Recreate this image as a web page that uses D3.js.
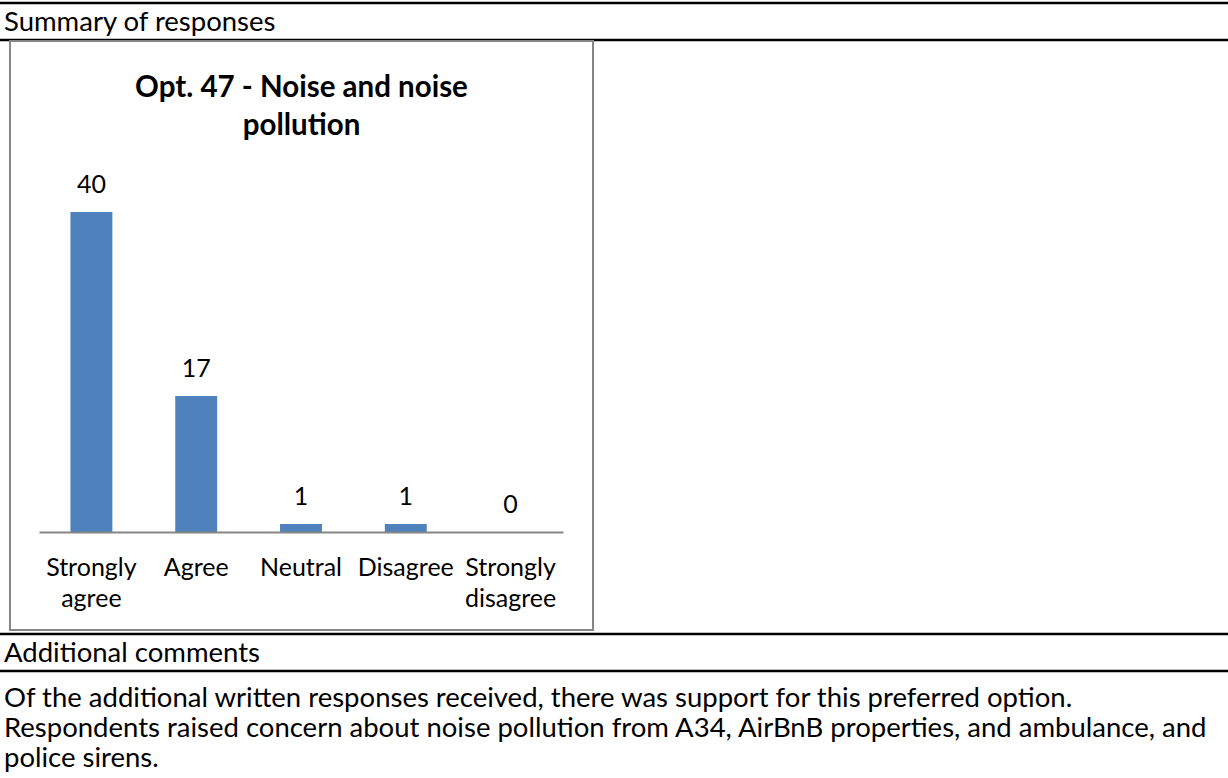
<!DOCTYPE html>
<html>
<head>
<meta charset="utf-8">
<script src="https://cdn.jsdelivr.net/npm/d3@7"></script>
<style>
  body { margin: 0; background: #fff; }
  svg { display: block; font-family: Lato, "Open Sans", sans-serif; }
</style>
</head>
<body>
<svg id="chart" width="1228" height="778"></svg>
<script>
// data
const categories = ['Strongly agree', 'Agree', 'Neutral', 'Disagree', 'Strongly disagree'];
const categoryLines = [['Strongly', 'agree'], ['Agree'], ['Neutral'], ['Disagree'], ['Strongly', 'disagree']];
const counts = [40, 17, 1, 1, 0];
const chartTitle = ['Opt. 47 - Noise and noise', 'pollution'];
const sectionHeads = ['Summary of responses', 'Additional comments'];
const commentLines = [
    'Of the additional written responses received, there was support for this preferred option.',
    'Respondents raised concern about noise pollution from A34, AirBnB properties, and ambulance, and',
    'police sirens.'
];

const svg = d3.select('#chart');
const W = 1228;
const bodySize = 27.5;
const chartSize = 25;

// table rules
[3, 40, 634, 671].forEach(y => {
    svg.append('line')
        .attr('x1', 0).attr('x2', W)
        .attr('y1', y).attr('y2', y)
        .attr('stroke', '#000')
        .attr('stroke-width', 2.5);
});

svg.append('text')
    .attr('x', 4).attr('y', 31)
    .attr('font-size', bodySize)
    .text(sectionHeads[0]);

svg.append('text')
    .attr('x', 4).attr('y', 662)
    .attr('font-size', bodySize)
    .text(sectionHeads[1]);

svg.selectAll('.comment')
    .data(commentLines)
    .enter().append('text')
    .attr('class', 'comment')
    .attr('x', 4)
    .attr('y', (d, i) => 707 + i * 30)
    .attr('font-size', bodySize)
    .text(d => d);

// chart frame
const box = {x: 10, y: 41, w: 583, h: 589};
svg.append('rect')
    .attr('x', box.x).attr('y', box.y)
    .attr('width', box.w).attr('height', box.h)
    .attr('fill', '#fff')
    .attr('stroke', '#868686')
    .attr('stroke-width', 2);

const titleG = svg.append('g')
    .attr('font-weight', 'bold')
    .attr('font-size', 29.5)
    .attr('text-anchor', 'middle');
titleG.selectAll('text')
    .data(chartTitle)
    .enter().append('text')
    .attr('x', box.x + box.w / 2)
    .attr('y', (d, i) => 97 + i * 38)
    .text(d => d);

const x = d3.scaleBand()
    .domain(categories)
    .range([39, 563])
    .paddingInner(0.6)
    .paddingOuter(0.3);

const y = d3.scaleLinear()
    .domain([0, 45])
    .range([532, 172]);

svg.selectAll('.bar')
    .data(counts)
    .enter().append('rect')
    .attr('class', 'bar')
    .attr('x', (d, i) => x(categories[i]))
    .attr('y', d => y(d))
    .attr('width', x.bandwidth())
    .attr('height', d => y(0) - y(d))
    .attr('fill', '#4F81BD');

const xAxis = d3.axisBottom(x).tickSize(0).tickFormat('');
svg.append('g')
    .attr('class', 'x-axis')
    .attr('transform', `translate(0, ${y(0)})`)
    .call(xAxis)
    .call(g => g.select('.domain').attr('stroke', '#868686').attr('stroke-width', 2));

svg.selectAll('.value')
    .data(counts)
    .enter().append('text')
    .attr('class', 'value')
    .attr('x', (d, i) => x(categories[i]) + x.bandwidth() / 2)
    .attr('y', d => y(d) - 19)
    .attr('text-anchor', 'middle')
    .attr('font-size', chartSize)
    .text(d => d);

const catG = svg.selectAll('.cat')
    .data(categoryLines)
    .enter().append('text')
    .attr('class', 'cat')
    .attr('text-anchor', 'middle')
    .attr('font-size', chartSize);
catG.selectAll('tspan')
    .data((d, i) => d.map(t => ({t, i})))
    .enter().append('tspan')
    .attr('x', d => x(categories[d.i]) + x.bandwidth() / 2)
    .attr('y', (d, j) => 576 + j * 31)
    .text(d => d.t);
</script>
</body>
</html>
